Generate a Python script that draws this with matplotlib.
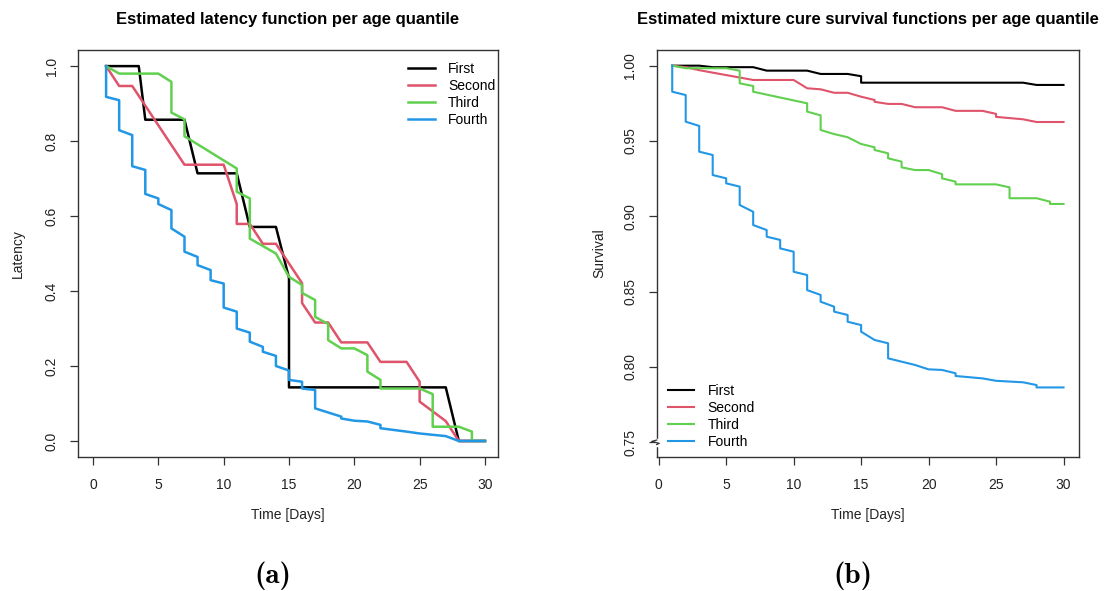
import matplotlib
matplotlib.use("Agg")
import matplotlib.pyplot as plt
import matplotlib.transforms as mtransforms

plt.rcParams['font.family'] = ['Liberation Sans', 'DejaVu Sans']

# Series names and colours (R palette)
quantiles = ['First', 'Second', 'Third', 'Fourth']
colors = ['#000000', '#DF536B', '#61D04F', '#2297E6']

# (a) Estimated latency per age quantile
lat_first_x = [1, 3.5, 4, 7, 8, 11, 12, 14, 15, 15, 27, 28, 30]
lat_first_y = [1, 1, 0.857, 0.857, 0.714, 0.714, 0.571, 0.571, 0.435, 0.143, 0.143, 0, 0]

lat_second_x = [1, 2, 3, 7, 10, 11, 11, 12, 13, 14, 16, 16, 17, 18, 19, 21, 22, 24, 25, 25, 27, 28, 30]
lat_second_y = [1, 0.947, 0.947, 0.737, 0.737, 0.632, 0.579, 0.579, 0.526, 0.526, 0.421, 0.368,
                0.316, 0.316, 0.263, 0.263, 0.211, 0.211, 0.158, 0.105, 0.053, 0, 0]

lat_third_x = [1, 2, 5, 6, 6, 7, 7, 11, 11, 12, 12, 14, 15, 16, 16, 17, 17, 18, 18, 19, 20, 21, 21,
               22, 22, 25, 26, 26, 28, 29, 29, 30]
lat_third_y = [1, 0.98, 0.98, 0.958, 0.876, 0.858, 0.813, 0.727, 0.665, 0.647, 0.54, 0.5, 0.438,
               0.416, 0.395, 0.376, 0.331, 0.312, 0.269, 0.247, 0.247, 0.229, 0.185, 0.163, 0.14,
               0.14, 0.125, 0.038, 0.038, 0.025, 0, 0]

lat_fourth_x = [1, 1, 2, 2, 3, 3, 4, 4, 5, 5, 6, 6, 7, 7, 8, 8, 9, 9, 10, 10, 11, 11, 12, 12, 13, 13,
                14, 14, 15, 15, 16, 16, 17, 17, 19, 19, 20, 21, 22, 22, 24, 25, 27, 28, 30]
lat_fourth_y = [1, 0.918, 0.909, 0.829, 0.816, 0.733, 0.723, 0.659, 0.647, 0.632, 0.616, 0.567,
                0.545, 0.505, 0.491, 0.469, 0.456, 0.429, 0.42, 0.356, 0.345, 0.3, 0.289, 0.265,
                0.251, 0.238, 0.227, 0.2, 0.188, 0.163, 0.158, 0.14, 0.136, 0.087, 0.065, 0.06,
                0.054, 0.052, 0.043, 0.034, 0.025, 0.02, 0.013, 0, 0]

# (b) Estimated mixture cure survival per age quantile
surv_first_x = [1, 3, 4, 7, 8, 11, 12, 14, 15, 15, 27, 28, 30]
surv_first_y = [1, 1, 0.999, 0.999, 0.9967, 0.9967, 0.9945, 0.9945, 0.993, 0.9887, 0.9887, 0.9872, 0.9872]

surv_second_x = [1, 2, 3, 7, 10, 11, 12, 13, 14, 15, 16, 16, 17, 18, 19, 21, 22, 24, 25, 25, 27, 28, 30]
surv_second_y = [1, 0.999, 0.997, 0.9905, 0.9905, 0.985, 0.9843, 0.982, 0.982, 0.9794, 0.9772, 0.976,
                 0.9746, 0.9746, 0.9724, 0.9724, 0.970, 0.970, 0.968, 0.966, 0.9644, 0.9626, 0.9626]

surv_third_x = [1, 2, 5, 6, 6, 7, 7, 11, 11, 12, 12, 13, 14, 15, 16, 16, 17, 17, 18, 18, 19, 20, 21,
                21, 22, 22, 25, 26, 26, 28, 29, 29, 30]
surv_third_y = [1, 0.9983, 0.9983, 0.9967, 0.9883, 0.9865, 0.9827, 0.975, 0.9695, 0.967, 0.9573,
                0.9546, 0.9525, 0.948, 0.9458, 0.944, 0.9418, 0.9385, 0.9363, 0.9325, 0.9307, 0.9307,
                0.928, 0.9252, 0.923, 0.9212, 0.9212, 0.9192, 0.912, 0.912, 0.9097, 0.9082, 0.9082]

surv_fourth_x = [1, 1, 2, 2, 3, 3, 4, 4, 5, 5, 6, 6, 7, 7, 8, 8, 9, 9, 10, 10, 11, 11, 12, 12, 13, 13,
                 14, 14, 15, 15, 16, 17, 17, 19, 20, 21, 22, 22, 24, 25, 27, 28, 28, 30]
surv_fourth_y = [1, 0.9827, 0.9805, 0.9628, 0.96, 0.9429, 0.9407, 0.9274, 0.9252, 0.9219, 0.9197,
                 0.9075, 0.903, 0.8942, 0.8909, 0.8865, 0.8843, 0.8787, 0.8765, 0.8632, 0.861, 0.851,
                 0.8478, 0.8433, 0.840, 0.8367, 0.8345, 0.830, 0.8278, 0.8234, 0.8179, 0.8157, 0.8057,
                 0.8013, 0.7984, 0.798, 0.7958, 0.794, 0.7924, 0.7908, 0.7898, 0.788, 0.7864, 0.7864]

x_ticks = [0, 5, 10, 15, 20, 25, 30]
lat_ticks = [0.0, 0.2, 0.4, 0.6, 0.8, 1.0]
surv_ticks = [0.75, 0.80, 0.85, 0.90, 0.95, 1.00]

fig = plt.figure(figsize=(11.05, 5.91), dpi=100)
ax1 = fig.add_axes([0.0706, 0.2272, 0.3801, 0.6882])
ax2 = fig.add_axes([0.5943, 0.2272, 0.3822, 0.6882])

axis_color = '#333333'
text_color = '#222222'
fs = 10


def style_axes(ax, yticks, yfmt):
    for s in ax.spines.values():
        s.set_color(axis_color)
        s.set_linewidth(1.0)
    ax.set_xticks(x_ticks)
    ax.set_yticks(yticks)
    ax.set_yticklabels([yfmt.format(v) for v in yticks], rotation=90, va='center')
    ax.tick_params(axis='both', direction='out', length=6, width=0.9, color=axis_color,
                   labelsize=fs, labelcolor=text_color)
    ax.tick_params(axis='x', pad=9)
    ax.tick_params(axis='y', pad=8)
    ax.set_xlabel('Time [Days]', fontsize=fs, labelpad=12, color=text_color)


# Panel (a)
lat_x = [lat_first_x, lat_second_x, lat_third_x, lat_fourth_x]
lat_y = [lat_first_y, lat_second_y, lat_third_y, lat_fourth_y]
for xs, ys, c, name in zip(lat_x, lat_y, colors, quantiles):
    ax1.plot(xs, ys, color=c, lw=1.8, label=name)
ax1.set_xlim(-1.15, 31.0)
ax1.set_ylim(-0.042, 1.043)
style_axes(ax1, lat_ticks, '{:.1f}')
ax1.set_ylabel('Latency', fontsize=fs, labelpad=14, color=text_color)
ax1.set_title('Estimated latency function per age quantile', fontsize=12, fontweight='bold', pad=19)
ax1.legend(loc='upper right', bbox_to_anchor=(1.0, 0.978), frameon=False, fontsize=fs,
           handlelength=1.9, handletextpad=0.95, labelspacing=0.22, borderpad=0.2,
           borderaxespad=0.0)

# Panel (b)
surv_x = [surv_first_x, surv_second_x, surv_third_x, surv_fourth_x]
surv_y = [surv_first_y, surv_second_y, surv_third_y, surv_fourth_y]
for xs, ys, c, name in zip(surv_x, surv_y, colors, quantiles):
    ax2.plot(xs, ys, color=c, lw=1.5, label=name)
ax2.set_xlim(-0.15, 31.15)
ax2.set_ylim(0.7404, 1.0104)
style_axes(ax2, surv_ticks, '{:.2f}')
ax2.set_ylabel('Survival', fontsize=fs, labelpad=12, color=text_color)
ax2.set_title('Estimated mixture cure survival functions per age quantile', fontsize=12,
              fontweight='bold', pad=19)
ax2.legend(loc='lower left', bbox_to_anchor=(0.0, -0.009), frameon=False, fontsize=fs,
           handlelength=1.9, handletextpad=0.95, labelspacing=0.22, borderpad=0.2,
           borderaxespad=0.6)

# axis break mark on the y axis at 0.75
trans = mtransforms.blended_transform_factory(ax2.transAxes, ax2.transData)
ax2.plot([0, 0], [0.7485, 0.7515], color='white', lw=2.5, transform=trans, clip_on=False, zorder=5)
ax2.plot([0, -0.012, 0.006, 0], [0.7515, 0.7505, 0.7493, 0.7485], color=axis_color, lw=0.9,
         transform=trans, clip_on=False, zorder=6)

# sub-figure captions
fig.text(0.2465, 0.0254, '(a)', ha='center', va='center', fontsize=21, family='cmb10')
fig.text(0.7715, 0.0254, '(b)', ha='center', va='center', fontsize=21, family='cmb10')

fig.savefig('out.png', dpi=100)
